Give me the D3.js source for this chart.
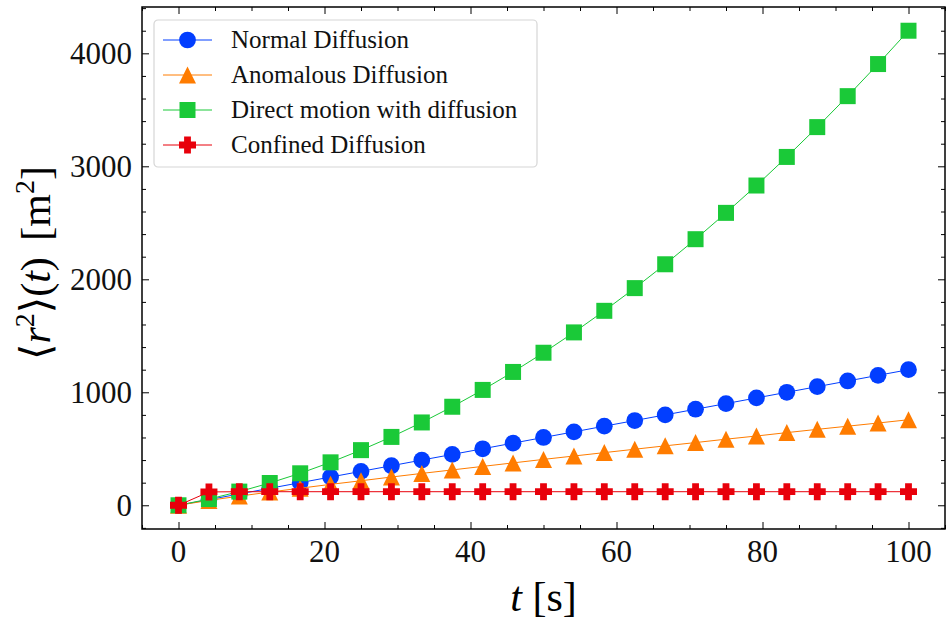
<!DOCTYPE html>
<html>
<head>
<meta charset="utf-8">
<script src="https://cdn.jsdelivr.net/npm/d3@7"></script>
<style>
  body { margin: 0; background: #fff; }
  svg { display: block; }
</style>
</head>
<body>
<div id="chart-area"></div>
<script>
// mean squared displacement, 25 samples from 0 to 100 s
var times = [0, 4.17, 8.33, 12.5, 16.67, 20.83, 25, 29.17, 33.33, 37.5, 41.67, 45.83, 50,
             54.17, 58.33, 62.5, 66.67, 70.83, 75, 79.17, 83.33, 87.5, 91.67, 95.83, 100];
var normal = [0, 50, 100, 150, 200, 250, 300, 350, 400, 450, 500, 550, 600,
              650, 700, 750, 800, 850, 900, 950, 1000, 1050, 1100, 1150, 1200];
var anomalous = [0, 43, 81, 117, 151, 185, 217, 250, 282, 313, 344, 375, 406,
                 436, 466, 496, 526, 555, 585, 613, 643, 672, 700, 728, 757];
var directed = [0, 55, 121, 197, 283, 380, 488, 605, 733, 872, 1021, 1180, 1350,
                1530, 1721, 1922, 2133, 2355, 2588, 2830, 3083, 3347, 3621, 3905, 4200];
var confined = [0, 118, 120, 120, 120, 120, 120, 120, 120, 120, 120, 120, 120,
                120, 120, 120, 120, 120, 120, 120, 120, 120, 120, 120, 120];
var seriesNames = ["Normal Diffusion", "Anomalous Diffusion", "Direct motion with diffusion", "Confined Diffusion"];
var xTicks = [0, 20, 40, 60, 80, 100];
var yTicks = [0, 1000, 2000, 3000, 4000];

var colors = ["#023eff", "#ff7c00", "#1ac938", "#e8000b"];

// matplotlib-like marker shapes (size = full extent in px)
var triUp = {draw: function(ctx, s){
  var h = s / 2;
  ctx.moveTo(0, -h); ctx.lineTo(h, h); ctx.lineTo(-h, h); ctx.closePath();
}};
var plusFilled = {draw: function(ctx, s){
  var h = s / 2, a = s * 0.2;
  ctx.moveTo(-a, -h); ctx.lineTo(a, -h); ctx.lineTo(a, -a); ctx.lineTo(h, -a);
  ctx.lineTo(h, a); ctx.lineTo(a, a); ctx.lineTo(a, h); ctx.lineTo(-a, h);
  ctx.lineTo(-a, a); ctx.lineTo(-h, a); ctx.lineTo(-h, -a); ctx.lineTo(-a, -a);
  ctx.closePath();
}};
var symbols = [
  d3.symbol().type(d3.symbolCircle).size(220),
  d3.symbol().type(triUp).size(17),
  d3.symbol().type(d3.symbolSquare).size(256),
  d3.symbol().type(plusFilled).size(17)
];
var allSeries = [normal, anomalous, directed, confined];

var W = 947, H = 623;
var margin = {left: 142, right: 2, top: 7, bottom: 94};
var width = W - margin.left - margin.right;
var height = H - margin.top - margin.bottom;
var font = "'Liberation Serif', 'DejaVu Serif', serif";

var svg = d3.select("#chart-area")
  .append("svg")
    .attr("width", W)
    .attr("height", H);

var g = svg.append("g")
  .attr("transform", "translate(" + margin.left + "," + margin.top + ")");

var x = d3.scaleLinear().domain([-5, 105]).range([0, width]);
var y = d3.scaleLinear().domain([-210, 4410]).range([height, 0]);

// ticks inside, on all four sides
var xMinor = d3.range(-5, 106, 5).filter(function(d){ return d % 20 != 0; });
var yMinor = d3.range(-200, 4401, 200).filter(function(d){ return d % 1000 != 0; });

function tickAxis(axis, scale, major, minor, transform) {
  var a = g.append("g").attr("transform", transform || null);
  a.call(axis(scale).tickValues(major).tickSize(-7).tickFormat(""));
  a.append("g").call(axis(scale).tickValues(minor).tickSize(-4).tickFormat(""));
  a.selectAll(".domain").remove();
  a.selectAll("line").attr("stroke", "#000").attr("stroke-width", 1);
}
tickAxis(d3.axisBottom, x, xTicks, xMinor, "translate(0," + height + ")");
tickAxis(d3.axisTop, x, xTicks, xMinor);
tickAxis(d3.axisLeft, y, yTicks, yMinor);
tickAxis(d3.axisRight, y, yTicks, yMinor, "translate(" + width + ",0)");

g.selectAll(".xlab")
  .data(xTicks)
  .enter().append("text")
    .attr("x", function(d){ return x(d); })
    .attr("y", height + 33)
    .attr("text-anchor", "middle")
    .attr("font-family", font)
    .attr("font-size", "31px")
    .attr("fill", "#111")
    .text(function(d){ return d; });

g.selectAll(".ylab")
  .data(yTicks)
  .enter().append("text")
    .attr("x", -10)
    .attr("y", function(d){ return y(d); })
    .attr("dy", "0.33em")
    .attr("text-anchor", "end")
    .attr("font-family", font)
    .attr("font-size", "31px")
    .attr("fill", "#111")
    .text(function(d){ return d; });

// series
var line = d3.line()
  .x(function(d, i){ return x(times[i]); })
  .y(function(d){ return y(d); });

allSeries.forEach(function(s, k){
  g.append("path")
    .datum(s)
    .attr("fill", "none")
    .attr("stroke", colors[k])
    .attr("stroke-width", 1)
    .attr("d", line);

  g.selectAll(".m" + k)
    .data(s)
    .enter().append("path")
      .attr("transform", function(d, i){ return "translate(" + x(times[i]) + "," + y(d) + ")"; })
      .attr("d", symbols[k])
      .attr("fill", colors[k]);
});

// frame
g.append("rect")
  .attr("width", width)
  .attr("height", height)
  .attr("fill", "none")
  .attr("stroke", "#000")
  .attr("stroke-width", 1.5);

// legend
var leg = svg.append("g").attr("transform", "translate(154,20)");
leg.append("rect")
  .attr("width", 383)
  .attr("height", 147)
  .attr("rx", 4)
  .attr("fill", "#fff")
  .attr("fill-opacity", 0.8)
  .attr("stroke", "#d6d6d6")
  .attr("stroke-width", 1.2);

seriesNames.forEach(function(name, k){
  var ry = 20 + k * 35;
  leg.append("line")
    .attr("x1", 9).attr("x2", 58)
    .attr("y1", ry).attr("y2", ry)
    .attr("stroke", colors[k])
    .attr("stroke-width", 1);
  leg.append("path")
    .attr("transform", "translate(33.5," + ry + ")")
    .attr("d", symbols[k])
    .attr("fill", colors[k]);
  leg.append("text")
    .attr("x", 77)
    .attr("y", ry)
    .attr("dy", "0.33em")
    .attr("font-family", font)
    .attr("font-size", "25px")
    .attr("fill", "#111")
    .text(name);
});

// axis labels
var xl = svg.append("text")
  .attr("x", margin.left + width / 2)
  .attr("y", 611)
  .attr("text-anchor", "middle")
  .attr("font-family", font)
  .attr("font-size", "42px");
xl.append("tspan").attr("font-style", "italic").text("t");
xl.append("tspan").text(" [s]");

var yl = svg.append("text")
  .attr("transform", "translate(50,263) rotate(-90)")
  .attr("text-anchor", "middle")
  .attr("font-family", font)
  .attr("font-size", "42px");
yl.append("tspan").text("\u27E8");
yl.append("tspan").attr("font-style", "italic").text("r");
yl.append("tspan").attr("font-size", "28px").attr("dy", -16).text("2");
yl.append("tspan").attr("dy", 16).text("\u27E9(");
yl.append("tspan").attr("font-style", "italic").text("t");
yl.append("tspan").text(") ");
yl.append("tspan").attr("dx", 6).text("[m");
yl.append("tspan").attr("font-size", "28px").attr("dy", -16).text("2");
yl.append("tspan").attr("dy", 16).text("]");
</script>
</body>
</html>
